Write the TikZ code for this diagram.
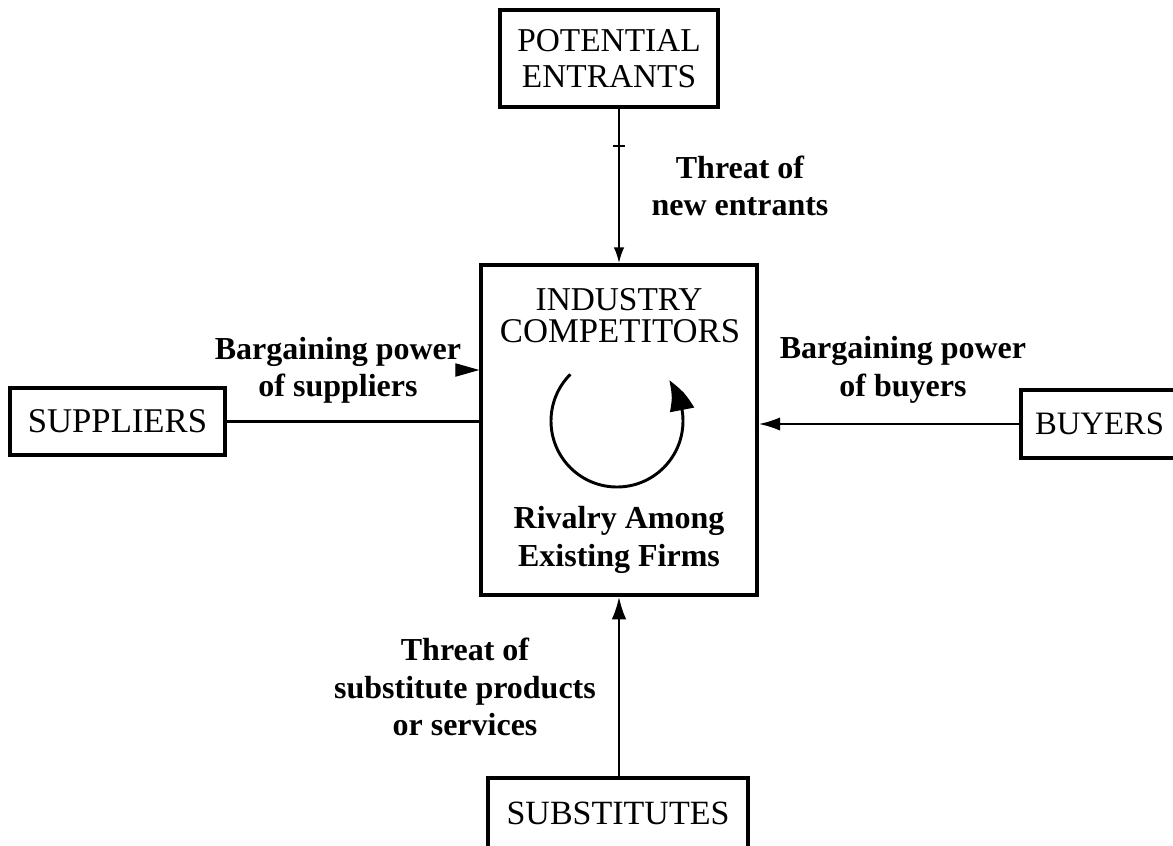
\documentclass[tikz,border=0pt]{standalone}
\usepackage{fontspec}
\setmainfont{Liberation Serif}
\usetikzlibrary{arrows.meta,bending}
\begin{document}
\begin{tikzpicture}[x=0.75pt,y=0.75pt,
  box/.style={draw, line width=2.6pt, inner sep=0pt, align=center,
              font=\fontsize{25}{26.5}\selectfont},
  lab/.style={align=center, inner sep=0pt, font=\bfseries\fontsize{24}{28}\selectfont},
  conn/.style={line width=1.6pt},
  tip/.style={-{Latex[length=16pt,width=10pt]}}]
\useasboundingbox (0,0) rectangle (1173,-845);

% the five forces
\node[box, minimum width=163.5pt, minimum height=72.75pt] (pe) at (609,-58.5) {POTENTIAL\\ENTRANTS};
\node[box, minimum width=207pt, minimum height=247.5pt] (ic) at (619,-430) {};
\node[box, minimum width=161.25pt, minimum height=50.25pt, font=\fontsize{26}{30}\selectfont] (sup) at (117.5,-421.5) {SUPPLIERS};
\node[box, minimum width=117.75pt, minimum height=51pt, font=\fontsize{24.5}{28}\selectfont] (buy) at (1099.5,-424) {BUYERS};
\node[box, minimum width=195pt, minimum height=52.5pt, font=\fontsize{25.5}{28}\selectfont] (sub) at (618,-813) {SUBSTITUTES};

% contents of the central box
\node[font=\fontsize{25}{28}\selectfont, inner sep=0pt] (ind) at (619,-300) {INDUSTRY};
\node[font=\fontsize{26}{28}\selectfont, inner sep=0pt] (comp) at (620,-331) {COMPETITORS};
\node[lab] (raf) at (619,-540) {Rivalry Among\\Existing Firms};
\coordinate (rc) at (617,-421);
\draw[line width=2.2pt, -{Triangle[length=25pt,width=18pt,bend]}]
  ([shift={(135:49.5pt)}]rc) arc[start angle=135, end angle=398, radius=49.5pt];

% connectors
\coordinate (tky) at (0,-145);
\draw[conn] (ic.north |- pe.south) -- (ic.north |- tky);
\draw[conn, {Bar[width=9pt]}-{Latex[length=12pt,width=8pt]}] (ic.north |- tky) -- (ic.north);
\draw[conn] (sup.east) -- (sup.east -| ic.west);
\coordinate (sa) at (456,-370);
\draw[line width=0.8pt, -{Triangle[length=18pt,width=10pt]}] (sa) -- (sa -| ic.west);
\draw[conn, tip] (buy.west) -- (buy.west -| ic.east);
\draw[conn, line width=2pt, -{Latex[length=17pt,width=11pt]}] (ic.south |- sub.north) -- (ic.south);

% labels
\node[lab] (tne) at (740,-186) {Threat of\\new entrants};
\node[lab] (bps) at (338,-370) {Bargaining power\\of suppliers};
\node[lab] (bpb) at (903,-370) {Bargaining power\\of buyers};
\node[lab] (tsp) at (465,-687) {Threat of\\substitute products\\or services};
\end{tikzpicture}
\end{document}
